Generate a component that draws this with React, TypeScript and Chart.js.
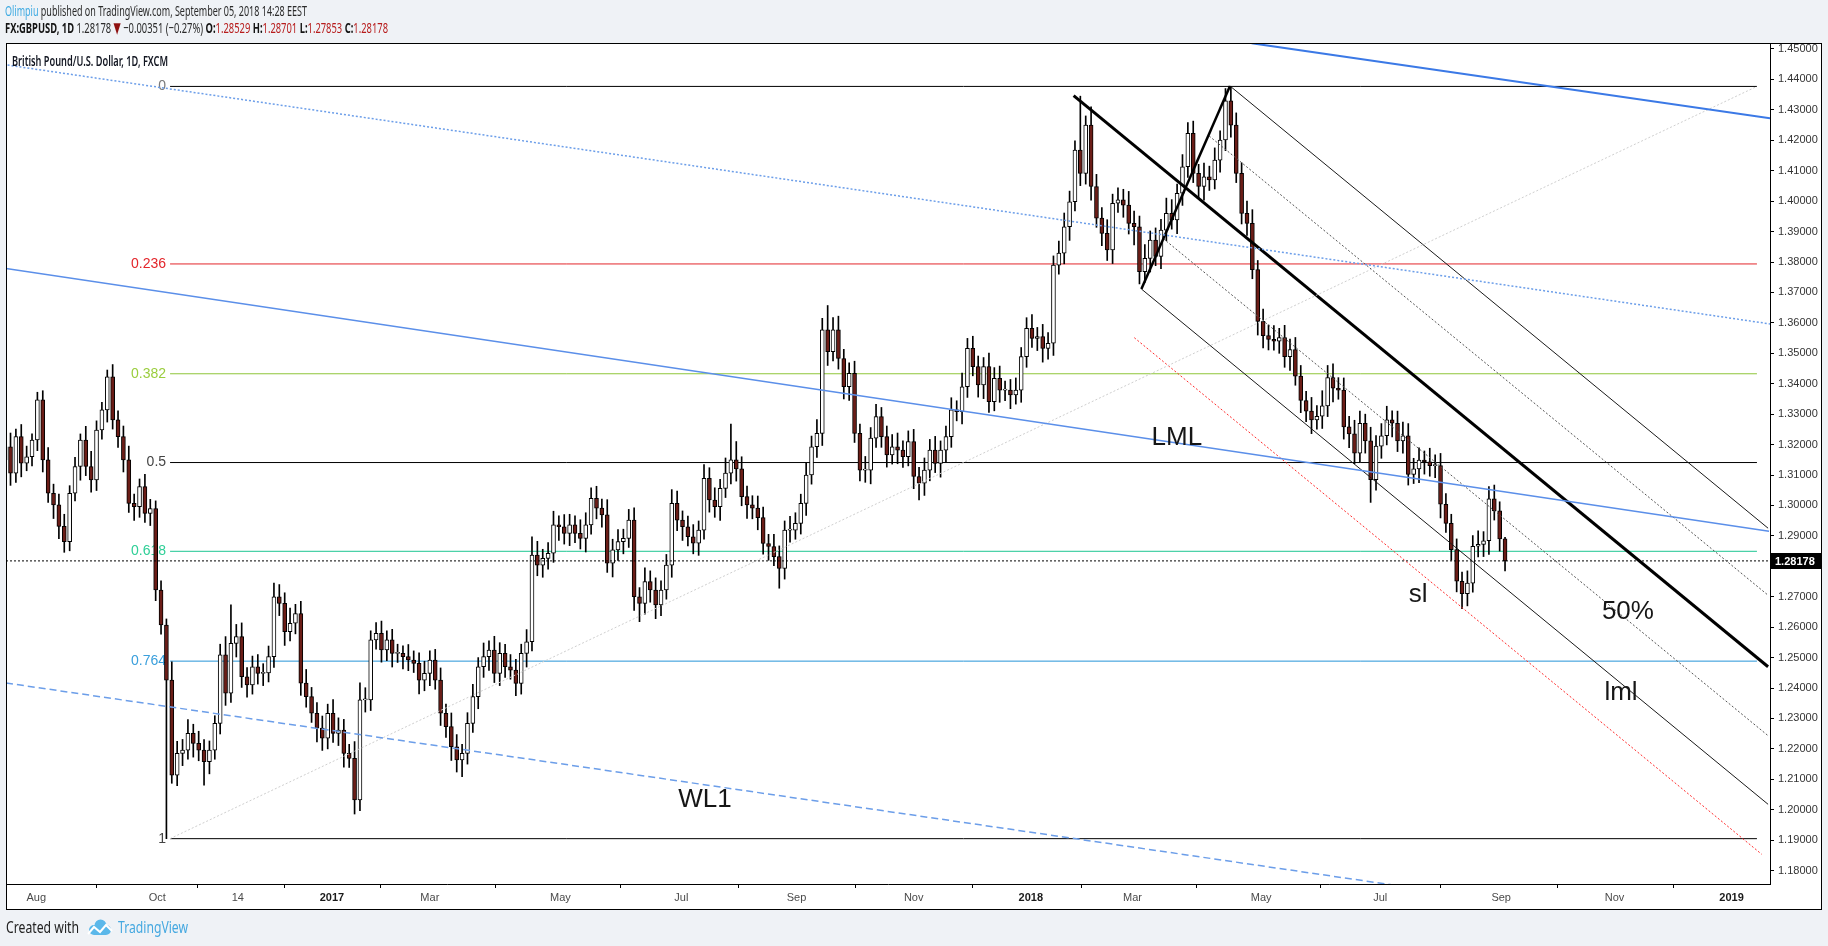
import { useEffect, useRef } from "react"
import { Chart, registerables } from "chart.js"

Chart.register(...registerables)

// GBP/USD, one candle per two trading days, mid-July 2016 to 5 Sep 2018
const firstOpen = 1.315
const closes = [
  1.3193, 1.3106, 1.3226, 1.3139, 1.316, 1.3215, 1.3347, 1.315, 1.304, 1.3002,
  1.2931, 1.2881, 1.304, 1.3128, 1.3215, 1.3128, 1.3084, 1.3248, 1.3314, 1.3423,
  1.3281, 1.3226, 1.315, 1.3007, 1.2996, 1.3062, 1.2974, 1.299, 1.2722, 1.2607,
  1.2426, 1.2114, 1.2185, 1.2196, 1.2251, 1.2218, 1.2196, 1.2158, 1.2196, 1.2284,
  1.2509, 1.2383, 1.2547, 1.2569, 1.2437, 1.241, 1.247, 1.2448, 1.245, 1.2503,
  1.27, 1.2678, 1.2585, 1.2613, 1.2645, 1.2416, 1.2372, 1.2317, 1.2268, 1.2235,
  1.2317, 1.2251, 1.2262, 1.2185, 1.2169, 1.2032, 1.2361, 1.2361, 1.2558, 1.258,
  1.2525, 1.2558, 1.2514, 1.2514, 1.2503, 1.2492, 1.2481, 1.2426, 1.2448, 1.2492,
  1.2426, 1.2317, 1.2273, 1.2207, 1.2164, 1.2185, 1.2284, 1.2372, 1.247, 1.2503,
  1.2525, 1.2448, 1.2514, 1.247, 1.2459, 1.2415, 1.2514, 1.2552, 1.2837, 1.2804,
  1.2826, 1.2843, 1.2936, 1.293, 1.2908, 1.2936, 1.2908, 1.2892, 1.2936, 1.3023,
  1.2991, 1.2969, 1.281, 1.2854, 1.2881, 1.2892, 1.2952, 1.27, 1.2678, 1.275,
  1.2722, 1.2673, 1.2722, 1.2804, 1.3007, 1.2952, 1.293, 1.2897, 1.2876, 1.2919,
  1.3089, 1.3018, 1.2996, 1.3056, 1.3106, 1.315, 1.312, 1.3029, 1.3002, 1.2991,
  1.296, 1.2875, 1.2865, 1.2832, 1.2793, 1.2919, 1.2919, 1.2941, 1.3007, 1.31,
  1.3193, 1.3237, 1.3577, 1.3505, 1.3577, 1.3483, 1.339, 1.3434, 1.3237, 1.3116,
  1.3116, 1.3221, 1.3292, 1.3226, 1.3166, 1.3193, 1.3182, 1.316, 1.321, 1.3095,
  1.3073, 1.3116, 1.3182, 1.3138, 1.3182, 1.3226, 1.3314, 1.3308, 1.339, 1.3516,
  1.3456, 1.3396, 1.3456, 1.3341, 1.3418, 1.3379, 1.3379, 1.3363, 1.3379, 1.3489,
  1.3582, 1.3549, 1.3555, 1.3516, 1.3533, 1.379, 1.3829, 1.3916, 1.3998, 1.4168,
  1.4091, 1.425, 1.4048, 1.3944, 1.3894, 1.384, 1.3993, 1.4004, 1.3987, 1.3927,
  1.3916, 1.3768, 1.3812, 1.3872, 1.3818, 1.3905, 1.396, 1.3938, 1.4026, 1.4113,
  1.4223, 1.4091, 1.4048, 1.408, 1.407, 1.4135, 1.4201, 1.433, 1.425, 1.4091,
  1.396, 1.3927, 1.3775, 1.3605, 1.3558, 1.3546, 1.354, 1.3552, 1.3489, 1.3512,
  1.3425, 1.3345, 1.331, 1.3281, 1.3293, 1.3327, 1.342, 1.3385, 1.3379, 1.3258,
  1.3235, 1.3172, 1.327, 1.3212, 1.3085, 1.3195, 1.3229, 1.3281, 1.327, 1.3212,
  1.3229, 1.3102, 1.312, 1.3149, 1.3143, 1.3131, 1.3131, 1.3004, 1.2941, 1.2855,
  1.2751, 1.271, 1.2745, 1.2866, 1.2872, 1.2884, 1.3022, 1.2982, 1.289, 1.2818,
]
// wick lengths in pips above / below each body
const upperWicks = [
  30, 45, 25, 40, 35, 20, 25, 30, 40, 30,
  35, 40, 25, 30, 20, 45, 50, 30, 25, 22,
  40, 30, 35, 45, 30, 25, 40, 30, 25, 30,
  20, 60, 40, 35, 45, 30, 40, 35, 30, 25,
  35, 60, 126, 40, 45, 30, 35, 40, 30, 35,
  45, 40, 35, 50, 30, 40, 45, 30, 35, 40,
  30, 45, 40, 35, 30, 55, 56, 40, 30, 35,
  40, 30, 35, 30, 25, 40, 30, 35, 40, 30,
  35, 40, 30, 45, 40, 30, 35, 40, 30, 45,
  30, 45, 35, 30, 40, 35, 30, 40, 60, 45,
  30, 35, 45, 30, 40, 35, 30, 45, 40, 35,
  40, 30, 50, 35, 40, 30, 35, 40, 30, 45,
  35, 40, 30, 35, 45, 40, 30, 35, 40, 30,
  45, 35, 40, 30, 50, 117, 60, 40, 35, 30,
  40, 35, 30, 40, 35, 30, 45, 35, 30, 40,
  35, 45, 38, 80, 40, 45, 30, 35, 40, 30,
  45, 35, 40, 30, 35, 40, 45, 30, 35, 40,
  30, 40, 35, 45, 30, 35, 40, 30, 45, 33,
  40, 35, 30, 45, 35, 40, 30, 35, 40, 30,
  35, 45, 30, 40, 35, 30, 40, 45, 35, 30,
  177, 30, 60, 40, 35, 45, 30, 40, 35, 45,
  40, 35, 45, 30, 40, 35, 50, 45, 30, 40,
  35, 40, 30, 45, 35, 40, 30, 40, 47, 40,
  35, 40, 45, 30, 40, 35, 45, 30, 40, 35,
  40, 35, 30, 45, 35, 50, 40, 45, 35, 40,
  35, 45, 40, 30, 45, 35, 40, 45, 30, 40,
  45, 40, 35, 40, 30, 45, 35, 40, 35, 30,
  35, 30, 40, 35, 45, 30, 40, 45, 30, 5,
]
const lowerWicks = [
  35, 40, 30, 45, 25, 30, 35, 40, 30, 45,
  40, 35, 30, 25, 45, 30, 40, 35, 30, 40,
  30, 35, 40, 30, 45, 35, 30, 40, 35, 30,
  521, 27, 35, 40, 30, 45, 35, 77, 40, 30,
  35, 40, 30, 45, 35, 40, 30, 35, 40, 30,
  35, 40, 45, 30, 35, 40, 35, 30, 45, 40,
  35, 30, 40, 45, 30, 46, 35, 40, 35, 30,
  40, 35, 45, 30, 40, 35, 30, 45, 35, 40,
  30, 40, 35, 45, 40, 55, 35, 30, 40, 35,
  45, 30, 40, 35, 30, 40, 35, 45, 30, 35,
  40, 35, 30, 45, 35, 40, 30, 35, 45, 30,
  35, 40, 30, 45, 35, 40, 30, 45, 60, 35,
  40, 45, 35, 30, 40, 35, 45, 30, 35, 40,
  30, 40, 35, 45, 30, 35, 40, 30, 45, 35,
  40, 35, 45, 30, 65, 35, 40, 30, 35, 40,
  30, 35, 40, 45, 30, 35, 40, 45, 30, 35,
  40, 45, 30, 35, 40, 30, 45, 35, 30, 40,
  55, 40, 35, 30, 45, 40, 35, 30, 40, 35,
  30, 40, 45, 35, 30, 40, 35, 45, 30, 40,
  35, 30, 40, 45, 35, 40, 30, 35, 45, 30,
  40, 35, 45, 30, 40, 35, 45, 30, 40, 35,
  60, 40, 35, 45, 30, 40, 35, 30, 45, 40,
  35, 30, 40, 45, 35, 30, 40, 35, 40, 30,
  35, 40, 30, 45, 40, 35, 30, 40, 35, 45,
  30, 40, 35, 45, 30, 40, 35, 45, 30, 40,
  45, 35, 30, 40, 75, 35, 40, 30, 45, 35,
  40, 35, 30, 45, 40, 35, 40, 45, 30, 35,
  35, 49, 40, 30, 35, 40, 45, 30, 40, 33,
]

// x values are days after 1 Jan 2017
const lastCandleDay = 612 // 5 Sep 2018
const daysPerCandle = 2.8 // two trading days
const xMin = -168.75
const xMax = 750

const monthTickDays = [-153, -90, -48, 1, 52, 120, 183, 243, 304, 365, 418, 485, 547, 610, 669, 730]
const monthLabels = ["Aug", "Oct", "14", "2017", "Mar", "May", "Jul", "Sep", "Nov", "2018", "Mar", "May", "Jul", "Sep", "Nov", "2019"]
const yearLabels = ["2017", "2018", "2019"]

const priceTicks = [
  1.18, 1.19, 1.2, 1.21, 1.22, 1.23, 1.24, 1.25, 1.26, 1.27, 1.28, 1.29, 1.3, 1.31,
  1.32, 1.33, 1.34, 1.35, 1.36, 1.37, 1.38, 1.39, 1.4, 1.41, 1.42, 1.43, 1.44, 1.45,
]
const yMin = 1.1756
const yMax = 1.45197

const lastPrice = 1.28178
const lastDay = { open: 1.28529, high: 1.28701, low: 1.27853, close: 1.28178, change: -0.00351, changePct: -0.27 }

// Fibonacci retracement between the Oct 2016 low and the Apr 2018 high
const fibHigh = 1.4377
const fibLow = 1.1905
const fibLevels = [0, 0.236, 0.382, 0.5, 0.618, 0.764, 1]
const fibLabels = ["0", "0.236", "0.382", "0.5", "0.618", "0.764", "1"]
const fibStartDay = -83.3
const fibEndDay = 743.2
const fibLineColors = ["#000000", "#e3262b", "#8fc63a", "#000000", "#1dc692", "#2695d8", "#000000"]
const fibTextColors = ["#7a7a7a", "#e3262b", "#9acd3d", "#444444", "#2fcf97", "#3a9fdc", "#444444"]

// drawn trend lines: [day, price] to [day, price]
const trendLines = [
  [[480, 1.4519], [750, 1.4272]],
  [[-170, 1.44491], [750, 1.35965]],
  [[-168.75, 1.3779], [749.5, 1.2915]],
  [[-168.75, 1.24165], [557.3, 1.17494]],
  [[-83.3, 1.1905], [743.2, 1.4377]],
  [[387.3, 1.43465], [749, 1.247]],
  [[422.6, 1.37113], [468.75, 1.43784]],
  [[422.6, 1.37113], [749, 1.20179]],
  [[468.75, 1.43784], [749, 1.29252]],
  [[457.9, 1.42141], [749, 1.2705]],
  [[434, 1.38769], [749, 1.22434]],
  [[418.9, 1.35513], [745.7, 1.18536]],
]
const trendStyles = [
  { color: "#3b79e6", width: 2, dash: [] },
  { color: "#6c9ee9", width: 1.5, dash: [2, 2] },
  { color: "#5b8fe9", width: 1.5, dash: [] },
  { color: "#6c9ee9", width: 1.5, dash: [7, 4] },
  { color: "#cfcfcf", width: 1, dash: [2, 2] },
  { color: "#000000", width: 3, dash: [] },
  { color: "#000000", width: 2.5, dash: [] },
  { color: "#1a1a1a", width: 1, dash: [] },
  { color: "#1a1a1a", width: 1, dash: [] },
  { color: "#555555", width: 1, dash: [2, 2] },
  { color: "#555555", width: 1, dash: [2, 2] },
  { color: "#ff2d2d", width: 1, dash: [2, 2] },
]

const noteTexts = ["LML", "WL1", "sl", "50%", "lml"]
const noteDays = [441.1, 195.3, 566.7, 676, 672.4]
const notePrices = [1.3222, 1.2032, 1.2706, 1.265, 1.2384]

type Seg = { text: string; color: string; weight?: string }

function drawFitted(ctx: CanvasRenderingContext2D, segs: Seg[], x: number, y: number, size: number, width: number) {
  const family = '"Noto Sans", "DejaVu Sans", sans-serif'
  ctx.save()
  let total = 0
  for (const s of segs) {
    ctx.font = `${s.weight ?? "normal"} ${size}px ${family}`
    total += ctx.measureText(s.text).width
  }
  ctx.translate(x, y)
  ctx.scale(width / total, 1)
  ctx.textBaseline = "middle"
  ctx.textAlign = "left"
  let cx = 0
  for (const s of segs) {
    ctx.font = `${s.weight ?? "normal"} ${size}px ${family}`
    ctx.fillStyle = s.color
    ctx.fillText(s.text, cx, 0)
    cx += ctx.measureText(s.text).width
  }
  ctx.restore()
}

const fib = (level: number) => fibHigh - level * (fibHigh - fibLow)

const decorPlugin = {
  id: "decor",
  beforeDraw(chart: any) {
    const { ctx, chartArea: a, scales } = chart
    ctx.save()
    ctx.fillStyle = "#eff2f6"
    ctx.fillRect(0, 0, chart.width, chart.height)
    ctx.fillStyle = "#ffffff"
    ctx.fillRect(a.left, a.top, a.right - a.left + scales.y.width, a.bottom - a.top + scales.x.height)
    ctx.restore()
  },
  beforeDatasetsDraw(chart: any) {
    const { ctx, scales } = chart
    ctx.save()
    ctx.font = '14px "Liberation Sans", Arial, sans-serif'
    ctx.textAlign = "right"
    ctx.textBaseline = "middle"
    fibLevels.forEach((lv, i) => {
      ctx.fillStyle = fibTextColors[i]
      ctx.fillText(fibLabels[i], scales.x.getPixelForValue(fibStartDay) - 4, scales.y.getPixelForValue(fib(lv)))
    })
    ctx.restore()
  },
  afterDatasetsDraw(chart: any) {
    const { ctx, scales } = chart
    ctx.save()
    ctx.font = '26px "Liberation Sans", Arial, sans-serif'
    ctx.textAlign = "center"
    ctx.textBaseline = "middle"
    ctx.fillStyle = "#161616"
    noteTexts.forEach((t, i) => {
      ctx.fillText(t, scales.x.getPixelForValue(noteDays[i]), scales.y.getPixelForValue(notePrices[i]))
    })
    ctx.restore()
  },
  afterDraw(chart: any) {
    const { ctx, chartArea: a, scales } = chart
    const right = a.right + scales.y.width
    const bottom = a.bottom + scales.x.height
    ctx.save()
    ctx.strokeStyle = "#000000"
    ctx.lineWidth = 1
    ctx.strokeRect(a.left + 0.5, a.top + 0.5, right - a.left, bottom - a.top)
    ctx.beginPath()
    ctx.moveTo(a.right + 0.5, a.top)
    ctx.lineTo(a.right + 0.5, a.bottom + 1)
    ctx.moveTo(a.left, a.bottom + 0.5)
    ctx.lineTo(a.right + 1, a.bottom + 0.5)
    ctx.stroke()

    // last price tag on the price axis
    const py = Math.round(scales.y.getPixelForValue(lastPrice))
    ctx.fillStyle = "#000000"
    ctx.fillRect(a.right + 1, py - 8, right - a.right - 1, 16)
    ctx.fillStyle = "#ffffff"
    ctx.font = 'bold 11px "Liberation Sans", Arial, sans-serif'
    ctx.textAlign = "left"
    ctx.textBaseline = "middle"
    ctx.fillText(lastPrice.toFixed(5), a.right + 5, py + 0.5)
    ctx.restore()

    const red = "#b71c1c"
    const dark = "#2a2a2a"
    drawFitted(ctx, [
      { text: "Olimpiu", color: "#3eaae2" },
      { text: " published on TradingView.com, September 05, 2018 14:28 EEST", color: dark },
    ], 5, 12, 15, 302)
    drawFitted(ctx, [
      { text: "FX:GBPUSD, 1D", color: "#151515", weight: "bold" },
      { text: ` ${lastPrice.toFixed(5)} `, color: dark },
      { text: "▼", color: "#8f1010" },
      { text: ` −${Math.abs(lastDay.change).toFixed(5)} (−${Math.abs(lastDay.changePct).toFixed(2)}%) `, color: dark },
      { text: "O:", color: "#151515", weight: "bold" },
      { text: lastDay.open.toFixed(5), color: red },
      { text: " H:", color: "#151515", weight: "bold" },
      { text: lastDay.high.toFixed(5), color: red },
      { text: " L:", color: "#151515", weight: "bold" },
      { text: lastDay.low.toFixed(5), color: red },
      { text: " C:", color: "#151515", weight: "bold" },
      { text: lastDay.close.toFixed(5), color: red },
    ], 5, 29, 15, 383)
    drawFitted(ctx, [{ text: "British Pound/U.S. Dollar, 1D, FXCM", color: "#131722", weight: "600" }], 12, 62, 15, 156)
    drawFitted(ctx, [{ text: "Created with", color: "#222222" }], 6, 928, 16, 73)
    drawFitted(ctx, [{ text: "TradingView", color: "#45a8e0" }], 118, 928, 16, 70)

    // TradingView cloud logo
    ctx.save()
    ctx.fillStyle = "#5bb8ea"
    ctx.beginPath()
    ctx.arc(94, 930, 5, 0, Math.PI * 2)
    ctx.arc(100.5, 925.5, 6, 0, Math.PI * 2)
    ctx.arc(106, 930, 5, 0, Math.PI * 2)
    ctx.fill()
    ctx.fillRect(94, 929, 12, 6)
    ctx.strokeStyle = "#ffffff"
    ctx.lineWidth = 2
    ctx.beginPath()
    ctx.moveTo(88, 934)
    ctx.lineTo(94, 927)
    ctx.lineTo(100, 932)
    ctx.lineTo(106, 925)
    ctx.lineTo(112, 931)
    ctx.stroke()
    ctx.restore()
  },
}

export default function App() {
  const canvasRef = useRef<HTMLCanvasElement>(null)
  const chartRef = useRef<Chart | null>(null)

  useEffect(() => {
    const canvas = canvasRef.current
    if (!canvas) return
    if (chartRef.current) chartRef.current.destroy()

    const n = closes.length
    const days = closes.map((_, i) => lastCandleDay - daysPerCandle * (n - 1 - i))
    const opens = closes.map((_, i) => (i === 0 ? firstOpen : closes[i - 1]))
    const bodies = closes.map((c, i) => ({ x: days[i], y: [opens[i], c] }))
    const wicks = closes.map((c, i) => ({
      x: days[i],
      y: [Math.min(opens[i], c) - lowerWicks[i] / 10000, Math.max(opens[i], c) + upperWicks[i] / 10000],
    }))
    const bodyColors = closes.map((c, i) => (c >= opens[i] ? "#ffffff" : "#6b1d17"))

    const line = (pts: number[][], color: string, width: number, dash: number[], order: number) => ({
      type: "line",
      data: pts.map(([x, y]) => ({ x, y })),
      borderColor: color,
      borderWidth: width,
      borderDash: dash,
      pointRadius: 0,
      fill: false,
      tension: 0,
      order,
    })

    const fibSets = fibLevels.map((lv, i) =>
      line([[fibStartDay, fib(lv)], [fibEndDay, fib(lv)]], fibLineColors[i], 1, [], 10)
    )
    const trendSets = trendLines.map((pts, i) =>
      line(pts, trendStyles[i].color, trendStyles[i].width, trendStyles[i].dash, 1)
    )
    const lastSet = line([[xMin, lastPrice], [xMax, lastPrice]], "#000000", 1, [2, 2], 3)

    chartRef.current = new Chart(canvas, {
      type: "bar",
      data: {
        datasets: [
          ...fibSets,
          {
            type: "bar",
            data: wicks,
            backgroundColor: "#000000",
            barThickness: 1,
            grouped: false,
            order: 6,
          },
          {
            type: "bar",
            data: bodies,
            backgroundColor: bodyColors,
            borderColor: "#000000",
            borderWidth: 1,
            borderSkipped: false,
            barThickness: 4,
            minBarLength: 1,
            grouped: false,
            order: 5,
          },
          lastSet,
          ...trendSets,
        ] as any,
      },
      options: {
        responsive: false,
        animation: false,
        devicePixelRatio: 1,
        events: [],
        layout: { padding: { left: 6, top: 43, right: 7, bottom: 37 } },
        plugins: { legend: { display: false }, tooltip: { enabled: false } },
        scales: {
          x: {
            type: "linear",
            min: xMin,
            max: xMax,
            offset: false,
            afterBuildTicks: (axis: any) => {
              axis.ticks = monthTickDays.map((value) => ({ value }))
            },
            afterFit: (axis: any) => {
              axis.height = 25
            },
            ticks: {
              autoSkip: false,
              maxRotation: 0,
              padding: 3,
              color: (c: any) => (yearLabels.includes(monthLabels[c.index]) ? "#1a1a1a" : "#4a4a4a"),
              font: (c: any) => ({
                family: '"Liberation Sans", Arial, sans-serif',
                size: 11,
                weight: yearLabels.includes(monthLabels[c.index]) ? "bold" : "normal",
              }),
              callback: (_v: any, i: number) => monthLabels[i],
            },
            grid: { drawOnChartArea: false, drawTicks: true, tickLength: 4, color: "#000000" },
            border: { display: false },
          },
          y: {
            type: "linear",
            position: "right",
            min: yMin,
            max: yMax,
            afterBuildTicks: (axis: any) => {
              axis.ticks = priceTicks.map((value) => ({ value }))
            },
            afterFit: (axis: any) => {
              axis.width = 51
            },
            ticks: {
              padding: 4,
              color: "#333333",
              font: { family: '"Liberation Sans", Arial, sans-serif', size: 11 },
              callback: (v: any) => Number(v).toFixed(5),
            },
            grid: { drawOnChartArea: false, drawTicks: true, tickLength: 4, color: "#000000" },
            border: { display: false },
          },
        },
      } as any,
      plugins: [decorPlugin],
    })

    return () => {
      if (chartRef.current) {
        chartRef.current.destroy()
        chartRef.current = null
      }
    }
  }, [])

  return (
    <div style={{ position: "absolute", left: 0, top: 0, width: 1828, height: 946 }}>
      <canvas
        ref={canvasRef}
        width={1828}
        height={946}
        style={{ display: "block", width: 1828, height: 946 }}
        aria-label="GBP/USD daily chart"
        role="img"
      ></canvas>
    </div>
  )
}
